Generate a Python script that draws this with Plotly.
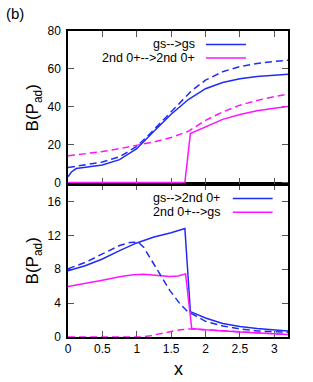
import plotly.graph_objects as go

# ---------------- data ----------------
# Top panel: B(P_ad), gs-->gs and 2nd 0+-->2nd 0+
top_gs_x_solid = [0, 0.05, 0.12, 0.25, 0.5, 0.75, 1.0, 1.25, 1.5, 1.75, 2.0, 2.25, 2.5, 2.75, 3.0, 3.2]
top_gs_y_solid = [3.0, 5.5, 7.3, 8.0, 9.2, 12.0, 17.8, 27.0, 36.0, 43.8, 49.5, 52.8, 54.8, 56.0, 56.7, 57.1]
top_gs_x_dash = [0, 0.25, 0.5, 0.75, 1.0, 1.2, 1.4, 1.6, 1.8, 2.0, 2.25, 2.5, 2.75, 3.0, 3.2]
top_gs_y_dash = [7.8, 9.2, 10.8, 13.5, 19.0, 26.0, 33.5, 41.0, 48.5, 54.0, 58.5, 61.2, 62.8, 63.9, 64.6]
top_2nd_x_solid = [0, 1.70, 1.78, 2.0, 2.25, 2.5, 2.75, 3.0, 3.2]
top_2nd_y_solid = [0, 0, 25.8, 29.5, 33.3, 35.9, 37.8, 39.2, 40.1]
top_2nd_x_dash = [0, 0.25, 0.5, 0.75, 1.0, 1.25, 1.5, 1.75, 2.0, 2.25, 2.5, 2.75, 3.0, 3.2]
top_2nd_y_dash = [14.0, 15.1, 16.3, 17.8, 19.5, 21.4, 23.7, 27.0, 32.8, 37.2, 40.8, 43.3, 45.3, 46.7]

# Bottom panel: gs-->2nd 0+ and 2nd 0+-->gs
bot_g2_x_solid = [0, 0.25, 0.5, 0.75, 1.0, 1.25, 1.5, 1.70, 1.78, 2.0, 2.25, 2.5, 2.75, 3.0, 3.2]
bot_g2_y_solid = [7.8, 8.4, 9.2, 10.2, 11.1, 11.8, 12.3, 12.8, 3.0, 2.25, 1.6, 1.25, 1.0, 0.82, 0.7]
bot_g2_x_dash = [0, 0.25, 0.5, 0.75, 0.9, 1.02, 1.1, 1.19, 1.33, 1.48, 1.63, 1.75, 1.80, 2.0, 2.25, 2.5, 2.75, 3.0, 3.2]
bot_g2_y_dash = [8.05, 8.8, 9.8, 10.8, 11.15, 11.2, 10.6, 9.4, 7.5, 5.5, 3.9, 2.9, 2.75, 1.85, 1.3, 0.95, 0.72, 0.6, 0.55]
bot_2g_x_solid = [0, 0.25, 0.5, 0.75, 0.95, 1.1, 1.3, 1.48, 1.6, 1.71, 1.80, 2.0, 2.5, 3.0, 3.2]
bot_2g_y_solid = [5.95, 6.3, 6.7, 7.1, 7.35, 7.4, 7.3, 7.15, 7.2, 7.45, 1.0, 0.85, 0.6, 0.38, 0.3]
bot_2g_x_dash = [0, 1.05, 1.2, 1.33, 1.5, 1.63, 1.78, 2.0, 2.5, 3.0, 3.2]
bot_2g_y_dash = [0, 0, 0.15, 0.4, 0.65, 0.85, 0.95, 0.85, 0.6, 0.38, 0.3]

x_ticks = [0, 0.5, 1, 1.5, 2, 2.5, 3]
x_ticklabels = ["0", "0.5", "1", "1.5", "2", "2.5", "3"]
top_yticks = [0, 20, 40, 60, 80]
bot_yticks = [0, 4, 8, 12, 16]

legend_top = ["gs-->gs", "2nd 0+-->2nd 0+"]
legend_bot = ["gs-->2nd 0+", "2nd 0+-->gs"]

# ---------------- style ----------------
BLUE = "#1f2cf5"
MAG = "#ff14ff"
FONT = "Liberation Sans, Arial, sans-serif"
DASH = "7px,4px"
LW = 1.5

fig = go.Figure()

def add(x, y, color, dash, xa, ya):
    fig.add_trace(go.Scatter(x=x, y=y, mode="lines", xaxis=xa, yaxis=ya,
                             line=dict(color=color, width=LW, dash=dash),
                             showlegend=False, hoverinfo="skip"))

# bottom panel on (x, y) so that the top panel (x2, y2) is drawn afterwards
add(bot_g2_x_solid, bot_g2_y_solid, BLUE, "solid", "x", "y")
add(bot_2g_x_solid, bot_2g_y_solid, MAG, "solid", "x", "y")
add(bot_g2_x_dash, bot_g2_y_dash, BLUE, DASH, "x", "y")
add(bot_2g_x_dash, bot_2g_y_dash, MAG, DASH, "x", "y")

add(top_gs_x_solid, top_gs_y_solid, BLUE, "solid", "x2", "y2")
add(top_2nd_x_solid, top_2nd_y_solid, MAG, "solid", "x2", "y2")
add(top_gs_x_dash, top_gs_y_dash, BLUE, DASH, "x2", "y2")
add(top_2nd_x_dash, top_2nd_y_dash, MAG, DASH, "x2", "y2")

axis_common = dict(showline=True, linecolor="black", linewidth=1.5, mirror="ticks",
                   ticks="inside", ticklen=6, tickwidth=1, tickcolor="#555555",
                   showgrid=False, zeroline=False, layer="below traces",
                   tickfont=dict(family=FONT, size=12, color="black"))

fig.update_layout(
    width=313, height=382,
    margin=dict(l=68, r=25, t=31, b=45),
    paper_bgcolor="white", plot_bgcolor="white",
    font=dict(family=FONT, color="black"),
    showlegend=False,
    xaxis=dict(domain=[0, 1], range=[0, 3.2], anchor="y", tickvals=x_ticks,
               ticktext=x_ticklabels, **axis_common),
    yaxis=dict(domain=[0, 0.4985], range=[0, 18], anchor="x", tickvals=bot_yticks,
               ticklabelstandoff=3, **axis_common),
    xaxis2=dict(domain=[0, 1], range=[0, 3.2], anchor="y2", tickvals=x_ticks,
                showticklabels=False, **axis_common),
    yaxis2=dict(domain=[0.5016, 1], range=[-0.6, 80], anchor="x2", tickvals=top_yticks,
                ticklabelstandoff=3, **axis_common),
)

ann = []
# panel label
ann.append(dict(text="(b)", x=-0.291, y=1.057, xref="paper", yref="paper",
                xanchor="left", yanchor="middle", showarrow=False,
                font=dict(family=FONT, size=15, color="black")))
# y titles
for yc in [0.75, 0.25]:
    ann.append(dict(text="B(P<sub>ad</sub>)", x=-0.155, y=yc, xref="paper", yref="paper",
                    xanchor="center", yanchor="middle", textangle=-90, showarrow=False,
                    font=dict(family=FONT, size=17, color="black")))
# x title
ann.append(dict(text="x", x=0.5, y=-0.105, xref="paper", yref="paper",
                xanchor="center", yanchor="middle", showarrow=False,
                font=dict(family=FONT, size=18, color="black")))

# legends (gnuplot style: text then sample)
shapes = []
leg_specs = [
    (legend_top, [0.956, 0.912], 0.586, 0.627, 0.809),
    (legend_bot, [0.453, 0.4075], 0.700, 0.749, 0.930),
]
for labels, ys, xt, x0, x1 in leg_specs:
    for lab, yy, col in zip(labels, ys, [BLUE, MAG]):
        ann.append(dict(text=lab, x=xt, y=yy, xref="paper", yref="paper",
                        xanchor="right", yanchor="middle", showarrow=False,
                        font=dict(family=FONT, size=12.5, color="black")))
        shapes.append(dict(type="line", xref="paper", yref="paper",
                           x0=x0, x1=x1, y0=yy, y1=yy,
                           line=dict(color=col, width=LW)))

fig.update_layout(annotations=ann, shapes=shapes)

fig.write_html("out.html", config={"displayModeBar": False},
               post_script="document.body.style.margin='0px';document.body.style.padding='0px';")
